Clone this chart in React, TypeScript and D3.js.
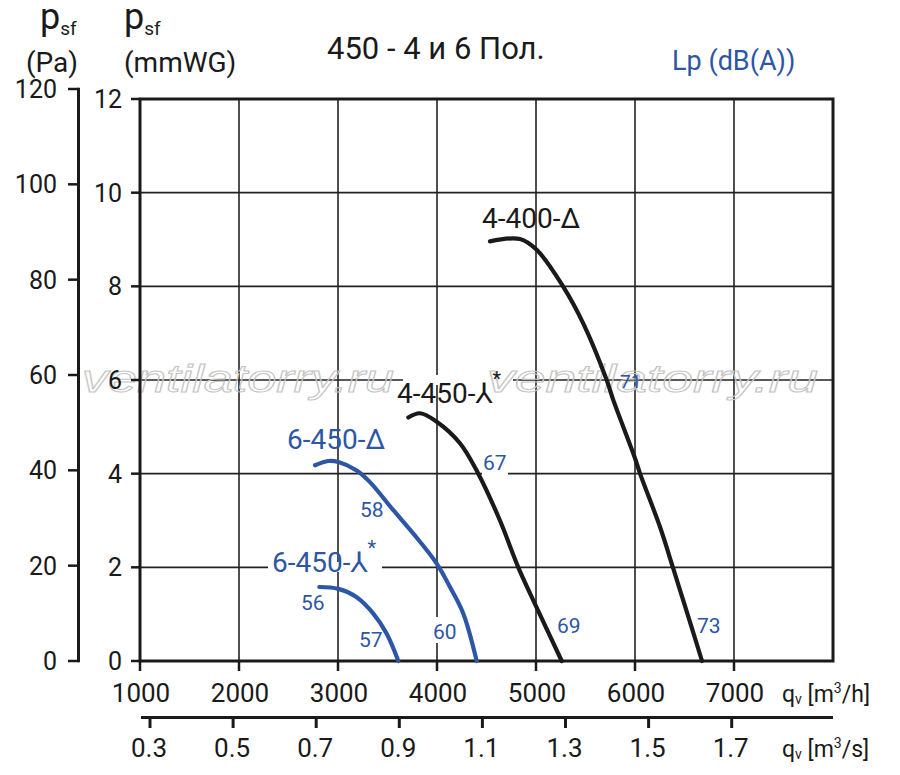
import React from "react";
import * as d3 from "d3";

// ---- data ----
const qTicks = [1000, 2000, 3000, 4000, 5000, 6000, 7000];
const qsTicks = [0.3, 0.5, 0.7, 0.9, 1.1, 1.3, 1.5, 1.7];
const mmTicks = [0, 2, 4, 6, 8, 10, 12];
const paTicks = [0, 20, 40, 60, 80, 100, 120];

// q in m3/h, p in mmWG
const curve4_400_D: [number, number][] = [
  [4535, 8.96], [4838, 9.01], [5007, 8.78], [5273, 8.0], [5477, 7.21], [5714, 6.0],
  [5781, 5.57], [6000, 4.33], [6051, 4.0], [6253, 2.86], [6387, 1.97], [6488, 1.29], [6677, 0],
];
const curve4_450_Y: [number, number][] = [
  [3710, 5.2], [3828, 5.29], [3997, 5.11], [4232, 4.65], [4417, 4.0], [4636, 3.0],
  [4821, 2.0], [5007, 1.14], [5260, 0],
];
const curve6_450_D: [number, number][] = [
  [2768, 4.18], [2902, 4.27], [3003, 4.25], [3189, 4.07], [3323, 3.82], [3559, 3.22],
  [3761, 2.72], [3997, 2.08], [4131, 1.58], [4266, 1.01], [4401, 0],
];
const curve6_450_Y: [number, number][] = [
  [2811, 1.58], [3003, 1.54], [3189, 1.36], [3357, 1.01], [3492, 0.58], [3609, 0],
];

const BLUE = "#2d56a6";
const FONT = "Roboto, 'DejaVu Sans', sans-serif";

export default function App() {
  const x = d3.scaleLinear().domain([1000, 8000]).range([140, 833]);
  const y = d3.scaleLinear().domain([0, 12]).range([661, 99]);
  const yPa = d3.scaleLinear().domain([0, 120]).range([661, 89]);
  const xs = d3.scaleLinear().domain([0.3, 1.7]).range([150, 731.7]);

  const line = d3
    .line<[number, number]>()
    .x((d) => x(d[0]))
    .y((d) => y(d[1]))
    .curve(d3.curveCatmullRom.alpha(0.5));

  const x0 = x(1000);
  const x1 = x(8000);
  const y0 = y(0);
  const y1 = y(12);

  const Y = (
    <tspan fontFamily="'DejaVu Sans', sans-serif">⅄</tspan>
  );

  return (
    <svg
      width={900}
      height={775}
      style={{ position: "absolute", left: 0, top: 0, display: "block", background: "#fff" }}
      fontFamily={FONT}
    >
      <rect x={0} y={0} width={900} height={775} fill="#fff" />

      {/* grid */}
      {qTicks.slice(1).map((q) => (
        <line key={"gv" + q} x1={x(q)} x2={x(q)} y1={y1} y2={y0} stroke="#222" strokeWidth={1.6} />
      ))}
      {mmTicks.slice(1, -1).map((m) => (
        <line key={"gh" + m} x1={x0} x2={x1} y1={y(m)} y2={y(m)} stroke="#222" strokeWidth={1.6} />
      ))}

      {/* white backgrounds for labels */}
      <rect x={403} y={375} width={110} height={10} fill="#fff" />
      <rect x={268} y={562} width={114} height={10} fill="#fff" />
      <rect x={431} y={617} width={26} height={26} fill="#fff" />
      <rect x={482} y={455} width={26} height={22} fill="#fff" />

      {/* watermark */}
      <g fontFamily="'Liberation Sans', sans-serif" fontStyle="italic" fontSize={38} fill="none" stroke="#c4c4c4" strokeWidth={1}>
        <text x={82} y={392} textLength={312} lengthAdjust="spacingAndGlyphs">ventilatorry.ru</text>
        <text x={487} y={392} textLength={331} lengthAdjust="spacingAndGlyphs">ventilatorry.ru</text>
      </g>

      {/* frame */}
      <rect x={x0} y={y1} width={x1 - x0} height={y0 - y1} fill="none" stroke="#1a1a1a" strokeWidth={3} />

      {/* mmWG axis ticks and labels */}
      {mmTicks.map((m) => (
        <g key={"mm" + m}>
          <line x1={131} x2={x0} y1={y(m)} y2={y(m)} stroke="#1a1a1a" strokeWidth={2.5} />
          <text x={122} y={y(m)} dy="0.36em" textAnchor="end" fontSize={25} fill="#1a1a1a">
            {m}
          </text>
        </g>
      ))}

      {/* Pa axis */}
      <line x1={78.5} x2={78.5} y1={yPa(120) - 1.2} y2={yPa(0) + 1.2} stroke="#1a1a1a" strokeWidth={3} />
      {paTicks.map((p) => (
        <g key={"pa" + p}>
          <line x1={68} x2={78.5} y1={yPa(p)} y2={yPa(p)} stroke="#1a1a1a" strokeWidth={2.5} />
          <text x={57} y={yPa(p)} dy="0.36em" textAnchor="end" fontSize={25} fill="#1a1a1a">
            {p}
          </text>
        </g>
      ))}

      {/* q m3/h axis */}
      {qTicks.map((q) => (
        <g key={"q" + q}>
          <line x1={x(q)} x2={x(q)} y1={y0} y2={671} stroke="#1a1a1a" strokeWidth={2.5} />
          <text x={x(q) + 1} y={702} textAnchor="middle" fontSize={26} fill="#1a1a1a">
            {q}
          </text>
        </g>
      ))}
      <text x={782} y={702} fontSize={23} fill="#1a1a1a">
        q<tspan fontSize={14} dy={2}>v</tspan>
        <tspan dy={-2}> [m</tspan>
        <tspan fontSize={14} dy={-9}>3</tspan>
        <tspan dy={9}>/h]</tspan>
      </text>

      {/* q m3/s axis */}
      <line x1={141} x2={833} y1={717.5} y2={717.5} stroke="#1a1a1a" strokeWidth={3} />
      {qsTicks.map((v) => (
        <g key={"qs" + v}>
          <line x1={xs(v)} x2={xs(v)} y1={717.5} y2={728} stroke="#1a1a1a" strokeWidth={3} />
          <text x={xs(v) - 1} y={757} textAnchor="middle" fontSize={26} fill="#1a1a1a">
            {v.toFixed(1)}
          </text>
        </g>
      ))}
      <text x={782} y={757} fontSize={23} fill="#1a1a1a">
        q<tspan fontSize={14} dy={2}>v</tspan>
        <tspan dy={-2}> [m</tspan>
        <tspan fontSize={14} dy={-9}>3</tspan>
        <tspan dy={9}>/s]</tspan>
      </text>

      {/* axis titles */}
      <text x={40} y={29} fontSize={36} fill="#1a1a1a">
        p<tspan fontSize={19} dy={6}>sf</tspan>
      </text>
      <text x={26} y={72} fontSize={28} fill="#1a1a1a">(Pa)</text>
      <text x={124} y={29} fontSize={36} fill="#1a1a1a">
        p<tspan fontSize={19} dy={6}>sf</tspan>
      </text>
      <text x={124} y={72} fontSize={28} fill="#1a1a1a">(mmWG)</text>

      {/* title */}
      <text x={327} y={59} fontSize={31} fill="#1a1a1a">450 - 4 и 6 Пол.</text>
      <text x={672} y={70} fontSize={27} fill={BLUE}>Lp (dB(A))</text>

      {/* curves */}
      <path d={line(curve4_400_D) || ""} fill="none" stroke="#1a1a1a" strokeWidth={4.2} strokeLinecap="round" />
      <path d={line(curve4_450_Y) || ""} fill="none" stroke="#1a1a1a" strokeWidth={4.2} strokeLinecap="round" />
      <path d={line(curve6_450_D) || ""} fill="none" stroke={BLUE} strokeWidth={4.2} strokeLinecap="round" />
      <path d={line(curve6_450_Y) || ""} fill="none" stroke={BLUE} strokeWidth={4.2} strokeLinecap="round" />

      {/* curve labels */}
      <text x={482} y={228} fontSize={28} fill="#1a1a1a">4-400-Δ</text>
      <text x={397} y={403} fontSize={28} fill="#1a1a1a">
        4-450-{Y}
        <tspan fontSize={20} dy={-17}>*</tspan>
      </text>
      <text x={287} y={449} fontSize={28} fill={BLUE}>6-450-Δ</text>
      <text x={272} y={572} fontSize={28} fill={BLUE}>
        6-450-{Y}
        <tspan fontSize={20} dy={-17}>*</tspan>
      </text>

      {/* sound levels */}
      <g fontSize={21} fill={BLUE}>
        <text x={360} y={517}>58</text>
        <text x={301} y={610}>56</text>
        <text x={359} y={647}>57</text>
        <text x={433} y={639}>60</text>
        <text x={483} y={470}>67</text>
        <text x={557} y={633}>69</text>
        <text x={697} y={633}>73</text>
        <text x={620} y={388} fontSize={19}>71</text>
      </g>
    </svg>
  );
}
